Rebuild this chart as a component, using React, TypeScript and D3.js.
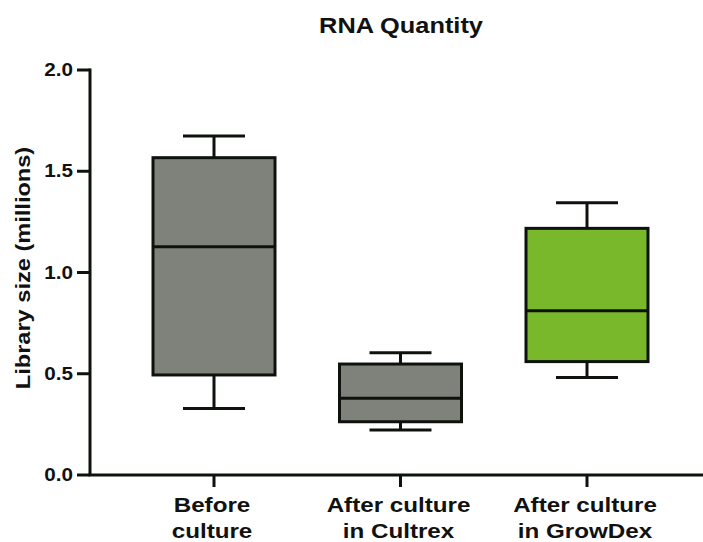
import React from "react";
import * as d3 from "d3";

const categories = [["Before", "culture"], ["After culture", "in Cultrex"], ["After culture", "in GrowDex"]];
const whiskerMax = [1.674, 0.604, 1.345];
const q3 = [1.567, 0.548, 1.218];
const median = [1.127, 0.379, 0.811];
const q1 = [0.494, 0.263, 0.56];
const whiskerMin = [0.329, 0.222, 0.482];
const fills = ["#7f817b", "#7f817b", "#7ab82b"];
const yTicks = [0, 0.5, 1.0, 1.5, 2.0];
const title = "RNA Quantity";
const yLabel = "Library size (millions)";

const W = 703;
const H = 542;
const FONT = "'Liberation Sans', Arial, Helvetica, sans-serif";
const SX = 1.18;
const STROKE = "#0d130c";

export default function App() {
  const y = d3.scaleLinear().domain([0, 2]).range([475, 70]);
  const x = d3.scalePoint<number>().domain([0, 1, 2]).range([214, 587]);
  const boxW = 122;
  const capW = 62;
  const x0 = 90;

  return (
    <svg width={W} height={H} style={{ position: "absolute", left: 0, top: 0, background: "#fff" }} fontFamily={FONT}>
      <text transform={`translate(401,32.5) scale(${SX},1)`} textAnchor="middle" fontSize={21.5} fontWeight="bold" fill="#111">{title}</text>
      <text transform={`translate(29.5,268) rotate(-90) scale(${SX},1)`} textAnchor="middle" fontSize={20} fontWeight="bold" fill="#111">{yLabel}</text>

      {/* boxes */}
      {categories.map((c, i) => {
        const cx = x(i)!;
        return (
          <g key={i} stroke={STROKE} strokeWidth={3}>
            <line x1={cx} x2={cx} y1={y(whiskerMax[i])} y2={y(q3[i])} />
            <line x1={cx} x2={cx} y1={y(q1[i])} y2={y(whiskerMin[i])} />
            <line x1={cx - capW / 2} x2={cx + capW / 2} y1={y(whiskerMax[i])} y2={y(whiskerMax[i])} />
            <line x1={cx - capW / 2} x2={cx + capW / 2} y1={y(whiskerMin[i])} y2={y(whiskerMin[i])} />
            <rect x={cx - boxW / 2} y={y(q3[i])} width={boxW} height={y(q1[i]) - y(q3[i])} fill={fills[i]} />
            <line x1={cx - boxW / 2} x2={cx + boxW / 2} y1={y(median[i])} y2={y(median[i])} />
          </g>
        );
      })}

      {/* axes */}
      <g stroke={STROKE} strokeWidth={3}>
        <line x1={x0} x2={x0} y1={y(2) - 1.5} y2={y(0)} />
        {yTicks.map((t) => (
          <line key={t} x1={x0 - 13} x2={x0} y1={y(t)} y2={y(t)} />
        ))}
        <line x1={x0 - 1.5} x2={W} y1={y(0)} y2={y(0)} />
        {categories.map((c, i) => (
          <line key={i} x1={x(i)!} x2={x(i)!} y1={y(0)} y2={y(0) + 12} />
        ))}
      </g>
      {yTicks.map((t) => (
        <text key={t} transform={`translate(73,${y(t) + 6}) scale(${SX},1)`} textAnchor="end" fontSize={17.5} fontWeight="bold" fill="#111">
          {d3.format(".1f")(t)}
        </text>
      ))}
      {categories.map((c, i) => (
        <g key={i}>
          {c.map((line, j) => (
            <text key={j} transform={`translate(${x(i)! - 2},${511.5 + j * 26}) scale(${SX},1)`} textAnchor="middle" fontSize={20.5} fontWeight="bold" fill="#111">
              {line}
            </text>
          ))}
        </g>
      ))}
    </svg>
  );
}
